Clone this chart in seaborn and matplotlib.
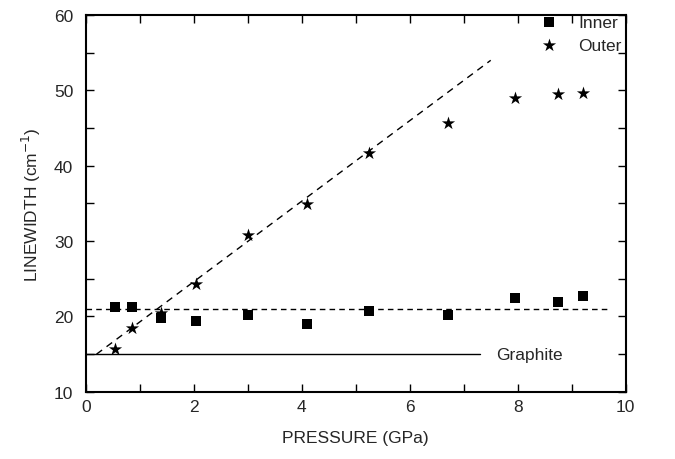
import numpy as np
import pandas as pd
import seaborn as sns
import matplotlib.pyplot as plt
from matplotlib.ticker import MultipleLocator

# values
pressure = [0.55, 0.85, 1.4, 2.05, 3.0, 4.1, 5.25, 6.7, 7.95, 8.75, 9.2]
inner = [21.3, 21.2, 19.8, 19.4, 20.2, 19.0, 20.7, 20.2, 22.5, 21.9, 22.7]
outer = [15.7, 18.5, 20.5, 24.3, 30.8, 34.9, 41.7, 45.7, 49.0, 49.5, 49.6]

fit_x = [0.2, 7.5]
fit_y = [15.0, 54.0]
inner_level = 21.0
inner_level_x = [0.0, 9.7]
graphite = 15.0
graphite_x = [0.0, 7.3]

sns.set_style("ticks")
plt.rcParams['font.family'] = ['Liberation Sans', 'DejaVu Sans']

fig = plt.figure(figsize=(6.75, 4.6), dpi=100)
ax = fig.add_axes([0.127, 0.146, 0.8, 0.819])

sns.scatterplot(x=pressure, y=inner, marker='s', color='black', s=45,
                linewidth=0, label='Inner', ax=ax)
sns.scatterplot(x=pressure, y=outer, marker='*', color='black', s=100,
                linewidth=0, label='Outer', ax=ax)

ax.plot(fit_x, fit_y, color='black', linestyle=(0, (5, 4)), linewidth=1)
ax.plot(inner_level_x, [inner_level] * 2, color='black', linestyle=(0, (4, 3)), linewidth=1)
ax.plot(graphite_x, [graphite] * 2, color='black', linestyle='-', linewidth=1)
ax.text(7.6, graphite, 'Graphite', fontsize=12.5, va='center', ha='left')

ax.set_xlim(0, 10)
ax.set_ylim(10, 60)
ax.xaxis.set_major_locator(MultipleLocator(2))
ax.xaxis.set_minor_locator(MultipleLocator(1))
ax.yaxis.set_major_locator(MultipleLocator(10))
ax.yaxis.set_minor_locator(MultipleLocator(5))
ax.tick_params(which='both', direction='in', top=True, right=True, labelsize=12.5,
               width=1, color='black', length=6)
ax.tick_params(axis='y', pad=9)
ax.tick_params(axis='x', pad=5)
for sp in ax.spines.values():
    sp.set_linewidth(1.5)
    sp.set_color('black')

ax.set_xlabel('PRESSURE (GPa)', fontsize=12.5, labelpad=12)
ax.set_ylabel('LINEWIDTH (cm$^{-1}$)', fontsize=12.5, labelpad=8)

leg = ax.legend(loc='upper right', frameon=False, fontsize=12.5,
                bbox_to_anchor=(1.005, 1.02),
                handletextpad=0.7, borderaxespad=0.0, labelspacing=0.45)

fig.savefig('out.png', dpi=100)
